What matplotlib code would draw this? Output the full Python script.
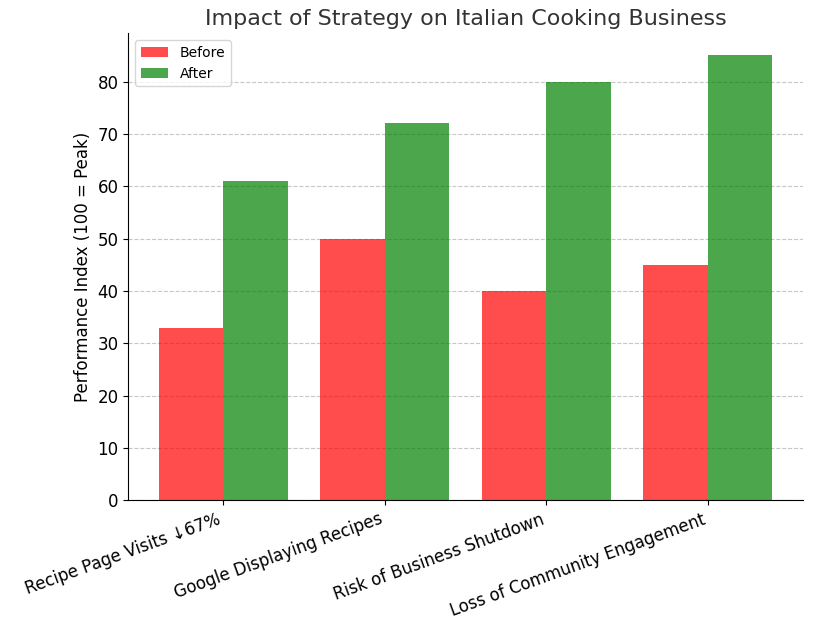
import matplotlib
matplotlib.use("Agg")
import matplotlib.pyplot as plt
import numpy as np

categories = ["Recipe Page Visits ↓67%", "Google Displaying Recipes",
              "Risk of Business Shutdown", "Loss of Community Engagement"]
before = [33, 50, 40, 45]
after = [61, 72, 80, 85]

fig, ax = plt.subplots(figsize=(8.32, 6.24), dpi=100)
fig.subplots_adjust(left=0.154, right=0.965, top=0.947, bottom=0.198)
x = np.arange(len(categories))
w = 0.4
ax.bar(x - w/2, before, w, color="red", alpha=0.7, label="Before")
ax.bar(x + w/2, after, w, color="green", alpha=0.7, label="After")
ax.set_xticks(x)
ax.set_xticklabels(categories, rotation=20, ha="right", fontsize=12)
ax.tick_params(axis="y", labelsize=12)
ax.set_ylabel("Performance Index (100 = Peak)", fontsize=12)
ax.set_title("Impact of Strategy on Italian Cooking Business", fontsize=16, color="#333333")
ax.grid(axis="y", linestyle="--", alpha=0.7)
ax.set_axisbelow(True)
ax.spines["top"].set_visible(False)
ax.spines["right"].set_visible(False)
ax.legend(loc="upper left")
fig.savefig("out.png")
